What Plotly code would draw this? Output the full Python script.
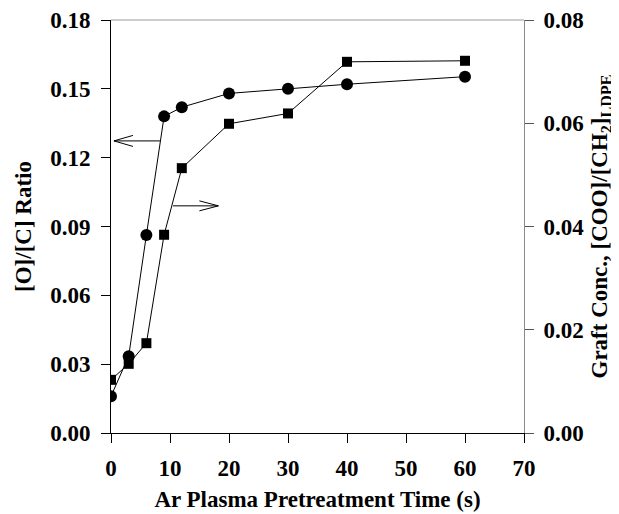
import plotly.graph_objects as go

# ---- data ----
time_s = [0, 3, 6, 9, 12, 20, 30, 40, 60]
oc_ratio = [0.016, 0.0335, 0.0863, 0.138, 0.142, 0.148, 0.150, 0.152, 0.1553]
graft_conc = [0.0103, 0.0134, 0.0174, 0.0384, 0.0513, 0.0599, 0.0619, 0.0719, 0.0721]

x_ticks = [0, 10, 20, 30, 40, 50, 60, 70]
left_ticks = [0.00, 0.03, 0.06, 0.09, 0.12, 0.15, 0.18]
right_ticks = [0.00, 0.02, 0.04, 0.06, 0.08]

# arrows (x from, x to, y)  -- left arrow on left axis, right arrow on right axis
left_arrow = dict(x_from=8.3, x_to=0.5, y=0.1273)
right_arrow = dict(x_from=10.5, x_to=18.2, y=0.044)

FONT = "Liberation Serif"

fig = go.Figure()
fig.add_trace(go.Scatter(
    x=time_s, y=oc_ratio, mode="lines+markers", yaxis="y",
    line=dict(color="black", width=1),
    marker=dict(symbol="circle", size=12, color="black"),
    showlegend=False,
))
fig.add_trace(go.Scatter(
    x=time_s, y=graft_conc, mode="lines+markers", yaxis="y2",
    line=dict(color="black", width=1),
    marker=dict(symbol="square", size=10, color="black"),
    showlegend=False,
))

# arrow shafts
fig.add_trace(go.Scatter(
    x=[left_arrow["x_from"], left_arrow["x_to"]], y=[left_arrow["y"]] * 2,
    mode="lines", yaxis="y", line=dict(color="black", width=1), showlegend=False,
    hoverinfo="skip",
))
fig.add_trace(go.Scatter(
    x=[right_arrow["x_from"], right_arrow["x_to"]], y=[right_arrow["y"]] * 2,
    mode="lines", yaxis="y2", line=dict(color="black", width=1), showlegend=False,
    hoverinfo="skip",
))

shapes = [
    # open arrowheads, pixel-sized, anchored at the tips
    dict(type="path", xref="x", yref="y", xsizemode="pixel", ysizemode="pixel",
         xanchor=left_arrow["x_to"], yanchor=left_arrow["y"],
         path="M19,5.5 L0,0 L19,-5.5", line=dict(color="black", width=1)),
    dict(type="path", xref="x", yref="y2", xsizemode="pixel", ysizemode="pixel",
         xanchor=right_arrow["x_to"], yanchor=right_arrow["y"],
         path="M-19,5 L0,0 L-19,-5", line=dict(color="black", width=1)),
    # grey top frame line
    dict(type="line", xref="x domain", yref="y domain", x0=0, x1=1, y0=1, y1=1,
         line=dict(color="#9a9a9a", width=1)),
]

tickfont = dict(family=FONT, size=23, color="black", weight="bold")
titlefont = dict(family=FONT, size=23, color="black", weight="bold")

# the page adds an 8px body margin, so the figure is sized to fit the window
fig.update_layout(
    width=611, height=506,
    margin=dict(l=103, r=95, t=12, b=81),
    paper_bgcolor="white", plot_bgcolor="white",
    shapes=shapes,
    xaxis=dict(
        range=[0, 70], tickvals=x_ticks, ticktext=[str(v) for v in x_ticks],
        automargin=False,
        showline=True, linecolor="black", linewidth=1,
        ticks="outside", ticklen=9, tickcolor="black", tickwidth=1,
        showgrid=False, zeroline=False, tickfont=tickfont,
        ticklabelstandoff=5,
        title=dict(text="Ar Plasma Pretreatment Time (s)", font=titlefont, standoff=11),
    ),
    yaxis=dict(
        range=[0, 0.18], tickvals=left_ticks, ticktext=[f"{v:.2f}" for v in left_ticks],
        automargin=False,
        showline=True, linecolor="black", linewidth=1,
        ticks="outside", ticklen=9, tickcolor="black", tickwidth=1,
        showgrid=False, zeroline=False, tickfont=tickfont,
        ticklabelstandoff=6,
        title=dict(text="[O]/[C] Ratio", font=titlefont, standoff=12),
    ),
    yaxis2=dict(
        range=[0, 0.08], tickvals=right_ticks, ticktext=[f"{v:.2f}" for v in right_ticks],
        overlaying="y", side="right", automargin=False,
        showline=True, linecolor="#8a8a8a", linewidth=1,
        ticks="outside", ticklen=9, tickcolor="#555555", tickwidth=1,
        showgrid=False, zeroline=False, tickfont=tickfont,
        ticklabelstandoff=5,
        title=dict(text="Graft Conc., [COO]/[CH<sub>2</sub>]<sub>LDPE</sub>",
                   font=titlefont, standoff=7),
    ),
)

fig.write_html("out.html")
